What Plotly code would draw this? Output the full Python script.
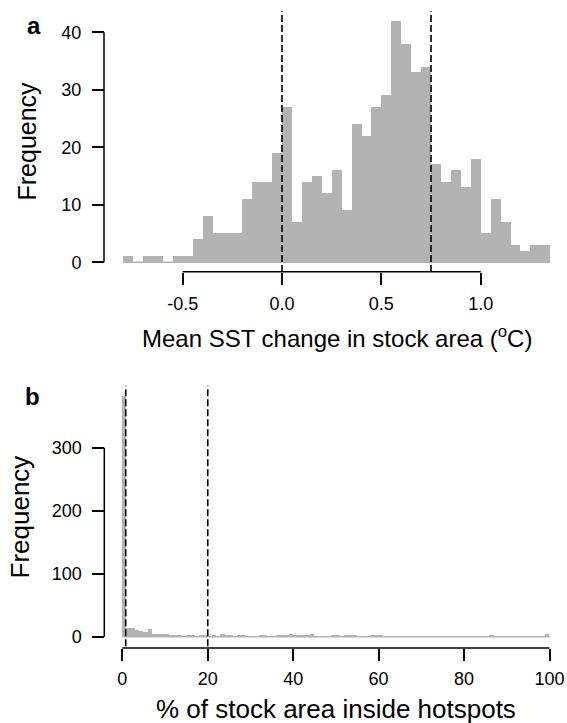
import plotly.graph_objects as go

# ---------------- data ----------------
# Panel a: mean SST change histogram (bin width 0.05, left edges)
a_bin_width = 0.05
a_bin_left = [-0.80, -0.75, -0.70, -0.65, -0.60, -0.55, -0.50, -0.45, -0.40, -0.35,
              -0.30, -0.25, -0.20, -0.15, -0.10, -0.05, 0.00, 0.05, 0.10, 0.15,
              0.20, 0.25, 0.30, 0.35, 0.40, 0.45, 0.50, 0.55, 0.60, 0.65,
              0.70, 0.75, 0.80, 0.85, 0.90, 0.95, 1.00, 1.05, 1.10, 1.15,
              1.20, 1.25, 1.30]
a_counts = [1, 0, 1, 1, 0, 1, 1, 4, 8, 5,
            5, 5, 11, 14, 14, 19, 27, 7, 14, 15,
            12, 16, 9, 24, 22, 27, 29, 42, 38, 33,
            34, 17, 14, 16, 13, 18, 5, 11, 7, 3,
            2, 3, 3]
a_vlines = [0.0, 0.75]
a_xticks = [-0.5, 0.0, 0.5, 1.0]
a_xticktext = ["-0.5", "0.0", "0.5", "1.0"]
a_yticks = [0, 10, 20, 30, 40]

# Panel b: % of stock area inside hotspots (bin width 1, left edges 0..99)
b_bin_width = 1
b_bin_left = list(range(0, 100))
b_counts = [383, 14, 14, 11, 9, 8, 12, 5, 5, 5,
            5, 3, 3, 3, 1, 2, 2, 1, 3, 2,
            1, 2, 1, 4, 2, 2, 0, 2, 2, 0,
            0, 0, 2, 2, 0, 0, 2, 2, 2, 4,
            2, 2, 2, 2, 4, 0, 0, 0, 0, 2,
            2, 0, 2, 2, 2, 0, 0, 0, 2, 2,
            2, 0, 0, 0, 0, 0, 0, 0, 0, 0,
            0, 0, 0, 0, 0, 0, 0, 0, 0, 0,
            0, 0, 0, 0, 0, 0, 2, 0, 0, 0,
            0, 0, 0, 0, 0, 0, 0, 0, 0, 5]
b_vlines = [0.8, 20]
b_xticks = [0, 20, 40, 60, 80, 100]
b_yticks = [0, 100, 200, 300]

# ---------------- layout helpers ----------------
W, H = 567, 723
FONT = "Liberation Sans, Arial, sans-serif"
BAR = "#b3b3b3"

def px_x(p):
    return p / W

def px_y(p):
    return 1 - p / H

# pixel calibration (value -> pixel)
a_x0, a_xs = 282.0, 198.7
a_y0, a_ys = 262.3, 5.75
b_x0, b_xs = 122.3, 4.272
b_y0, b_ys = 636.7, 0.63

a_xr = [-0.886, 1.42]
a_yr = [-1.68, 43.68]
b_xr = [-4.0, 104.0]
b_yr = [-15.3, 398.3]

def dom_x(x0, xs, r):
    return [px_x(x0 + r[0] * xs), px_x(x0 + r[1] * xs)]

def dom_y(y0, ys, r):
    return [px_y(y0 - r[0] * ys), px_y(y0 - r[1] * ys)]

fig = go.Figure()

a_centers = [l + a_bin_width / 2 for l in a_bin_left]
b_centers = [l + b_bin_width / 2 for l in b_bin_left]

fig.add_trace(go.Scatter(x=[a_bin_left[0], a_bin_left[-1] + a_bin_width], y=[0, 0],
                         mode="lines", line=dict(color=BAR, width=1.5),
                         xaxis="x", yaxis="y", showlegend=False, hoverinfo="skip"))
fig.add_trace(go.Bar(x=a_centers, y=a_counts, width=[a_bin_width] * len(a_centers),
                     marker=dict(color=BAR, line=dict(width=0)),
                     xaxis="x", yaxis="y", showlegend=False))

fig.add_trace(go.Scatter(x=[b_bin_left[0], b_bin_left[-1] + b_bin_width], y=[0, 0],
                         mode="lines", line=dict(color=BAR, width=1.5),
                         xaxis="x2", yaxis="y2", showlegend=False, hoverinfo="skip"))
fig.add_trace(go.Bar(x=b_centers, y=b_counts, width=[b_bin_width] * len(b_centers),
                     marker=dict(color=BAR, line=dict(width=0)),
                     xaxis="x2", yaxis="y2", showlegend=False))

tickfont = dict(family=FONT, size=18, color="black")
common = dict(showgrid=False, zeroline=False, showline=False, ticks="outside",
              ticklen=12, tickwidth=1.5, tickcolor="black", tickfont=tickfont,
              fixedrange=True)

shapes = []
for v in a_vlines:
    shapes.append(dict(type="line", xref="x", yref="y domain", x0=v, x1=v, y0=0, y1=1,
                       line=dict(color="black", width=1.6, dash="7px,3px")))
for v in b_vlines:
    shapes.append(dict(type="line", xref="x2", yref="y2 domain", x0=v, x1=v, y0=0, y1=1,
                       line=dict(color="black", width=1.6, dash="7px,3px")))

a_xaxis_pos = px_y(271.7)
a_yaxis_pos = px_x(104.0)
b_xaxis_pos = px_y(648.0)
b_yaxis_pos = px_x(104.3)
shapes += [
    dict(type="line", xref="x", yref="paper", x0=a_xticks[0], x1=a_xticks[-1],
         y0=a_xaxis_pos, y1=a_xaxis_pos, line=dict(color="black", width=1.5)),
    dict(type="line", xref="paper", yref="y", x0=a_yaxis_pos, x1=a_yaxis_pos,
         y0=a_yticks[0], y1=a_yticks[-1], line=dict(color="black", width=1.5)),
    dict(type="line", xref="x2", yref="paper", x0=b_xticks[0], x1=b_xticks[-1],
         y0=b_xaxis_pos, y1=b_xaxis_pos, line=dict(color="black", width=1.5)),
    dict(type="line", xref="paper", yref="y2", x0=b_yaxis_pos, x1=b_yaxis_pos,
         y0=b_yticks[0], y1=b_yticks[-1], line=dict(color="black", width=1.5)),
]

def ann(text, x, y, size, angle=0):
    return dict(text=text, x=px_x(x), y=px_y(y), xref="paper", yref="paper",
                xanchor="center", yanchor="middle", textangle=angle, showarrow=False,
                font=dict(family=FONT, size=size, color="black"))

annotations = [
    ann("<b>a</b>", 34, 26, 24),
    ann("<b>b</b>", 32, 396, 24),
    ann("Frequency", 27, 141.5, 25, -90),
    ann("Frequency", 19.5, 517, 26, -90),
    ann("Mean SST change in stock area (<sup>o</sup>C)", 336.5, 337, 24),
    ann("% of stock area inside hotspots", 336, 709, 26),
]

fig.update_layout(
    width=W, height=H, autosize=False,
    margin=dict(l=0, r=0, t=0, b=0),
    paper_bgcolor="white", plot_bgcolor="rgba(0,0,0,0)",
    bargap=0, barmode="overlay", showlegend=False,
    xaxis=dict(common, domain=dom_x(a_x0, a_xs, a_xr), range=a_xr, anchor="free",
               position=a_xaxis_pos, tickvals=a_xticks, ticktext=a_xticktext,
               ticklabelstandoff=4),
    yaxis=dict(common, domain=dom_y(a_y0, a_ys, a_yr), range=a_yr, anchor="free",
               position=a_yaxis_pos, tickvals=a_yticks, ticklabelstandoff=7),
    xaxis2=dict(common, domain=dom_x(b_x0, b_xs, b_xr), range=b_xr, anchor="free",
                position=b_xaxis_pos, tickvals=b_xticks, ticklabelstandoff=2),
    yaxis2=dict(common, domain=dom_y(b_y0, b_ys, b_yr), range=b_yr, anchor="free",
                position=b_yaxis_pos, tickvals=b_yticks, ticklabelstandoff=7),
    shapes=shapes, annotations=annotations,
)

fig.write_html("out.html", config=dict(displayModeBar=False),
               post_script="document.body.style.margin='0';document.body.style.padding='0';")
